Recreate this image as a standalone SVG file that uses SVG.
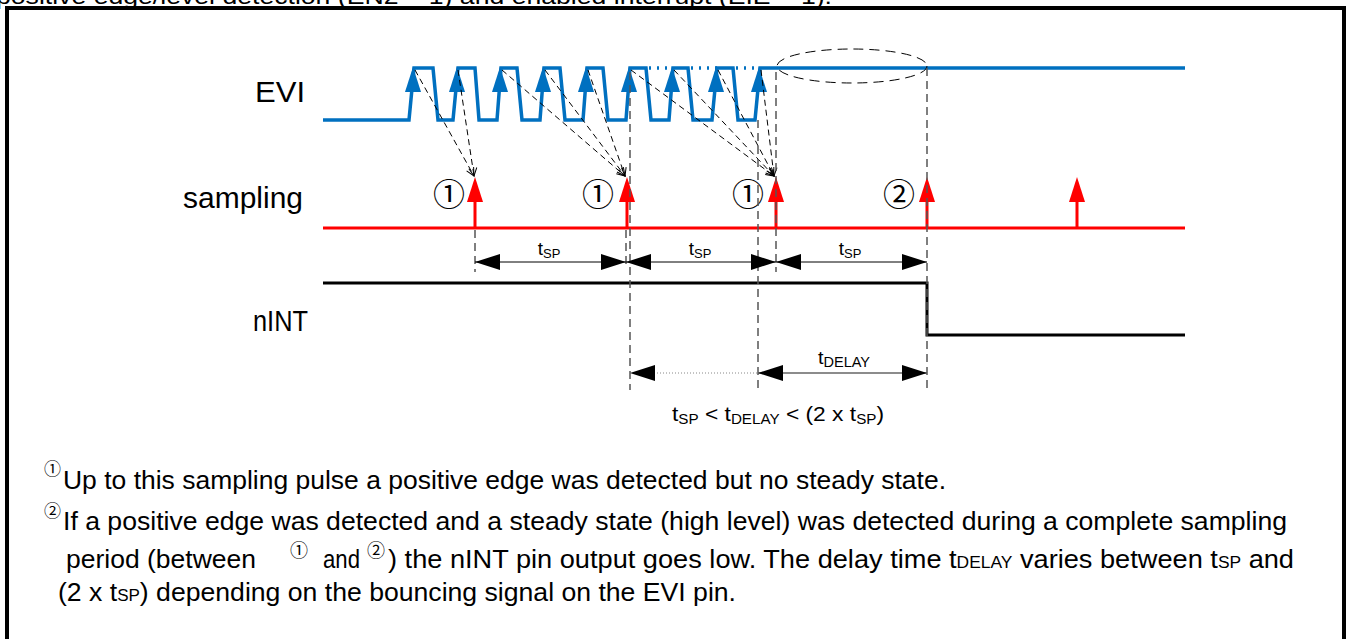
<svg xmlns="http://www.w3.org/2000/svg" width="1352" height="639" viewBox="0 0 1352 639">
<defs>
<style>
text{font-family:"Liberation Sans",Arial,sans-serif;fill:#000}
.lbl{font-size:30px}
.note{font-size:25px}
.circ{font-family:"Noto Sans CJK SC","DejaVu Sans",sans-serif}
.evi{fill:none;stroke:#0070C0;stroke-width:3.5}
.red{stroke:#FF0000;stroke-width:3;fill:none}
.dash{stroke:#000;stroke-width:1;stroke-dasharray:6,4;fill:none}
.vdash{stroke:#555;stroke-width:1.5;stroke-dasharray:8,5;fill:none}
.dim{stroke:#000;stroke-width:1;fill:none}
</style>
<marker id="open" markerWidth="10" markerHeight="10" refX="9" refY="5" orient="auto" markerUnits="userSpaceOnUse">
<path d="M1,1 L9,5 L1,9" fill="none" stroke="#000" stroke-width="1"/>
</marker>
<marker id="fa" markerWidth="26" markerHeight="18" refX="25" refY="9" orient="auto-start-reverse" markerUnits="userSpaceOnUse">
<path d="M0,1 L25,9 L0,17 Z" fill="#000"/>
</marker>
<path id="bh" d="M0,0 L-8,25 L8,25 Z" fill="#0070C0"/>
<path id="rh" d="M0,0 L-8,25 L8,25 Z" fill="#FF0000"/>
</defs>
<rect width="1352" height="639" fill="#fff"/>
<text x="-4" y="4" font-size="22" textLength="836" lengthAdjust="spacingAndGlyphs">positive edge/level detection (EN2 = 1) and enabled interrupt (EIE = 1).</text>
<rect x="7" y="8" width="1337" height="660" fill="none" stroke="#000" stroke-width="4"/>

<g id="labels">
<text class="lbl" x="255" y="102" textLength="50" lengthAdjust="spacingAndGlyphs">EVI</text>
<text class="lbl" x="183" y="208" textLength="120" lengthAdjust="spacingAndGlyphs">sampling</text>
<text class="lbl" x="253" y="331" textLength="55" lengthAdjust="spacingAndGlyphs">nINT</text>
</g>

<g id="evi">
<path class="evi" d="M323,120 H409 L414,68 H433 L438,120 H453 L458,68 H475 L479,120 H497 L501,68 H517 L522,120 H540 L544,68 H560 L565,120 H583 L587,68 H603 L608,120 H626 L630,68 H646 L651,120 H669 L673,68 H688 L693,120 H712 L717,68 H733 L738,120 H755 L760,68 H1185"/>
<path class="evi" stroke-dasharray="2,6" d="M649,68 H673 M691,68 H717 M736,68 H760"/>
<use href="#bh" x="413" y="67"/>
<use href="#bh" x="457" y="67"/>
<use href="#bh" x="500" y="67"/>
<use href="#bh" x="543" y="67"/>
<use href="#bh" x="586" y="67"/>
<use href="#bh" x="629" y="67"/>
<use href="#bh" x="672" y="67"/>
<use href="#bh" x="716" y="67"/>
<use href="#bh" x="759" y="67"/>
<ellipse cx="852" cy="66" rx="75" ry="17" fill="none" stroke="#000" stroke-width="1" stroke-dasharray="10,6"/>
</g>

<g id="sampling">
<path class="red" d="M323,228 H1185"/>
<path class="red" d="M475,200 V228 M627,200 V228 M776,200 V228 M927,200 V228 M1077,200 V228"/>
<use href="#rh" x="475" y="177"/>
<use href="#rh" x="627" y="177"/>
<use href="#rh" x="776" y="177"/>
<use href="#rh" x="927" y="177"/>
<use href="#rh" x="1077" y="177"/>
<text class="circ" x="449" y="206" font-size="32" text-anchor="middle">①</text>
<text class="circ" x="598" y="206" font-size="32" text-anchor="middle">①</text>
<text class="circ" x="748" y="206" font-size="32" text-anchor="middle">①</text>
<text class="circ" x="899" y="206" font-size="32" text-anchor="middle">②</text>
</g>

<g id="nint">
<path d="M323,283 H927 V335 H1185" fill="none" stroke="#000" stroke-width="3"/>
</g>

<g id="connectors">
<path class="dash" marker-end="url(#open)" d="M415,70 L474,176"/>
<path class="dash" marker-end="url(#open)" d="M458,70 L474,176"/>
<path class="dash" marker-end="url(#open)" d="M502,70 L625,176"/>
<path class="dash" marker-end="url(#open)" d="M545,70 L625,176"/>
<path class="dash" marker-end="url(#open)" d="M588,70 L625,176"/>
<path class="dash" marker-end="url(#open)" d="M631,70 L774,176"/>
<path class="dash" marker-end="url(#open)" d="M674,70 L774,176"/>
<path class="dash" marker-end="url(#open)" d="M718,70 L774,176"/>
<path class="dash" marker-end="url(#open)" d="M761,70 L774,176"/>
<path class="vdash" d="M475,230 V272 M626,230 V268 M630,72 V390 M758,120 V390 M776,72 V272 M927,68 V390"/>
<path class="dim" marker-start="url(#fa)" marker-end="url(#fa)" d="M475,262 H626"/>
<path class="dim" marker-start="url(#fa)" marker-end="url(#fa)" d="M626,262 H776"/>
<path class="dim" marker-start="url(#fa)" marker-end="url(#fa)" d="M776,262 H927"/>
<path d="M630,373 H758" fill="none" stroke="#888" stroke-width="1" stroke-dasharray="1,2" marker-start="url(#fa)"/>
<path d="M758,373 H927" fill="none" stroke="#666" stroke-width="1.5" marker-start="url(#fa)" marker-end="url(#fa)"/>
</g>

<g id="dimlabels" font-size="19">
<text x="549" y="255" text-anchor="middle">t<tspan font-size="13" dy="3">SP</tspan></text>
<text x="700" y="255" text-anchor="middle">t<tspan font-size="13" dy="3">SP</tspan></text>
<text x="850" y="255" text-anchor="middle">t<tspan font-size="13" dy="3">SP</tspan></text>
<text x="818" y="364" textLength="52" lengthAdjust="spacingAndGlyphs">t<tspan font-size="14" dy="3">DELAY</tspan></text>
<text x="672" y="421" font-size="21" textLength="212" lengthAdjust="spacingAndGlyphs">t<tspan font-size="14" dy="3">SP</tspan><tspan dy="-3"> &lt; t</tspan><tspan font-size="14" dy="3">DELAY</tspan><tspan dy="-3"> &lt; (2 x t</tspan><tspan font-size="14" dy="3">SP</tspan><tspan dy="-3">)</tspan></text>
</g>

<g id="notes">
<text class="circ" x="44" y="475" font-size="17">①</text>
<text class="note" x="63" y="489" textLength="883" lengthAdjust="spacingAndGlyphs">Up to this sampling pulse a positive edge was detected but no steady state.</text>
<text class="circ" x="44" y="517" font-size="17">②</text>
<text class="note" x="63" y="530" textLength="1224" lengthAdjust="spacingAndGlyphs">If a positive edge was detected and a steady state (high level) was detected during a complete sampling</text>
<text class="note" x="66" y="568" textLength="190" lengthAdjust="spacingAndGlyphs">period (between</text>
<text class="circ" x="290" y="557" font-size="18">①</text>
<text class="note" x="323" y="568" textLength="37" lengthAdjust="spacingAndGlyphs">and</text>
<text class="circ" x="367" y="557" font-size="18">②</text>
<text class="note" x="388" y="568" textLength="906" lengthAdjust="spacingAndGlyphs">) the nINT pin output goes low. The delay time t<tspan font-size="16">DELAY</tspan> varies between t<tspan font-size="16">SP</tspan> and</text>
<text class="note" x="58" y="601" textLength="678" lengthAdjust="spacingAndGlyphs">(2 x t<tspan font-size="16">SP</tspan>) depending on the bouncing signal on the EVI pin.</text>
</g>
</svg>
